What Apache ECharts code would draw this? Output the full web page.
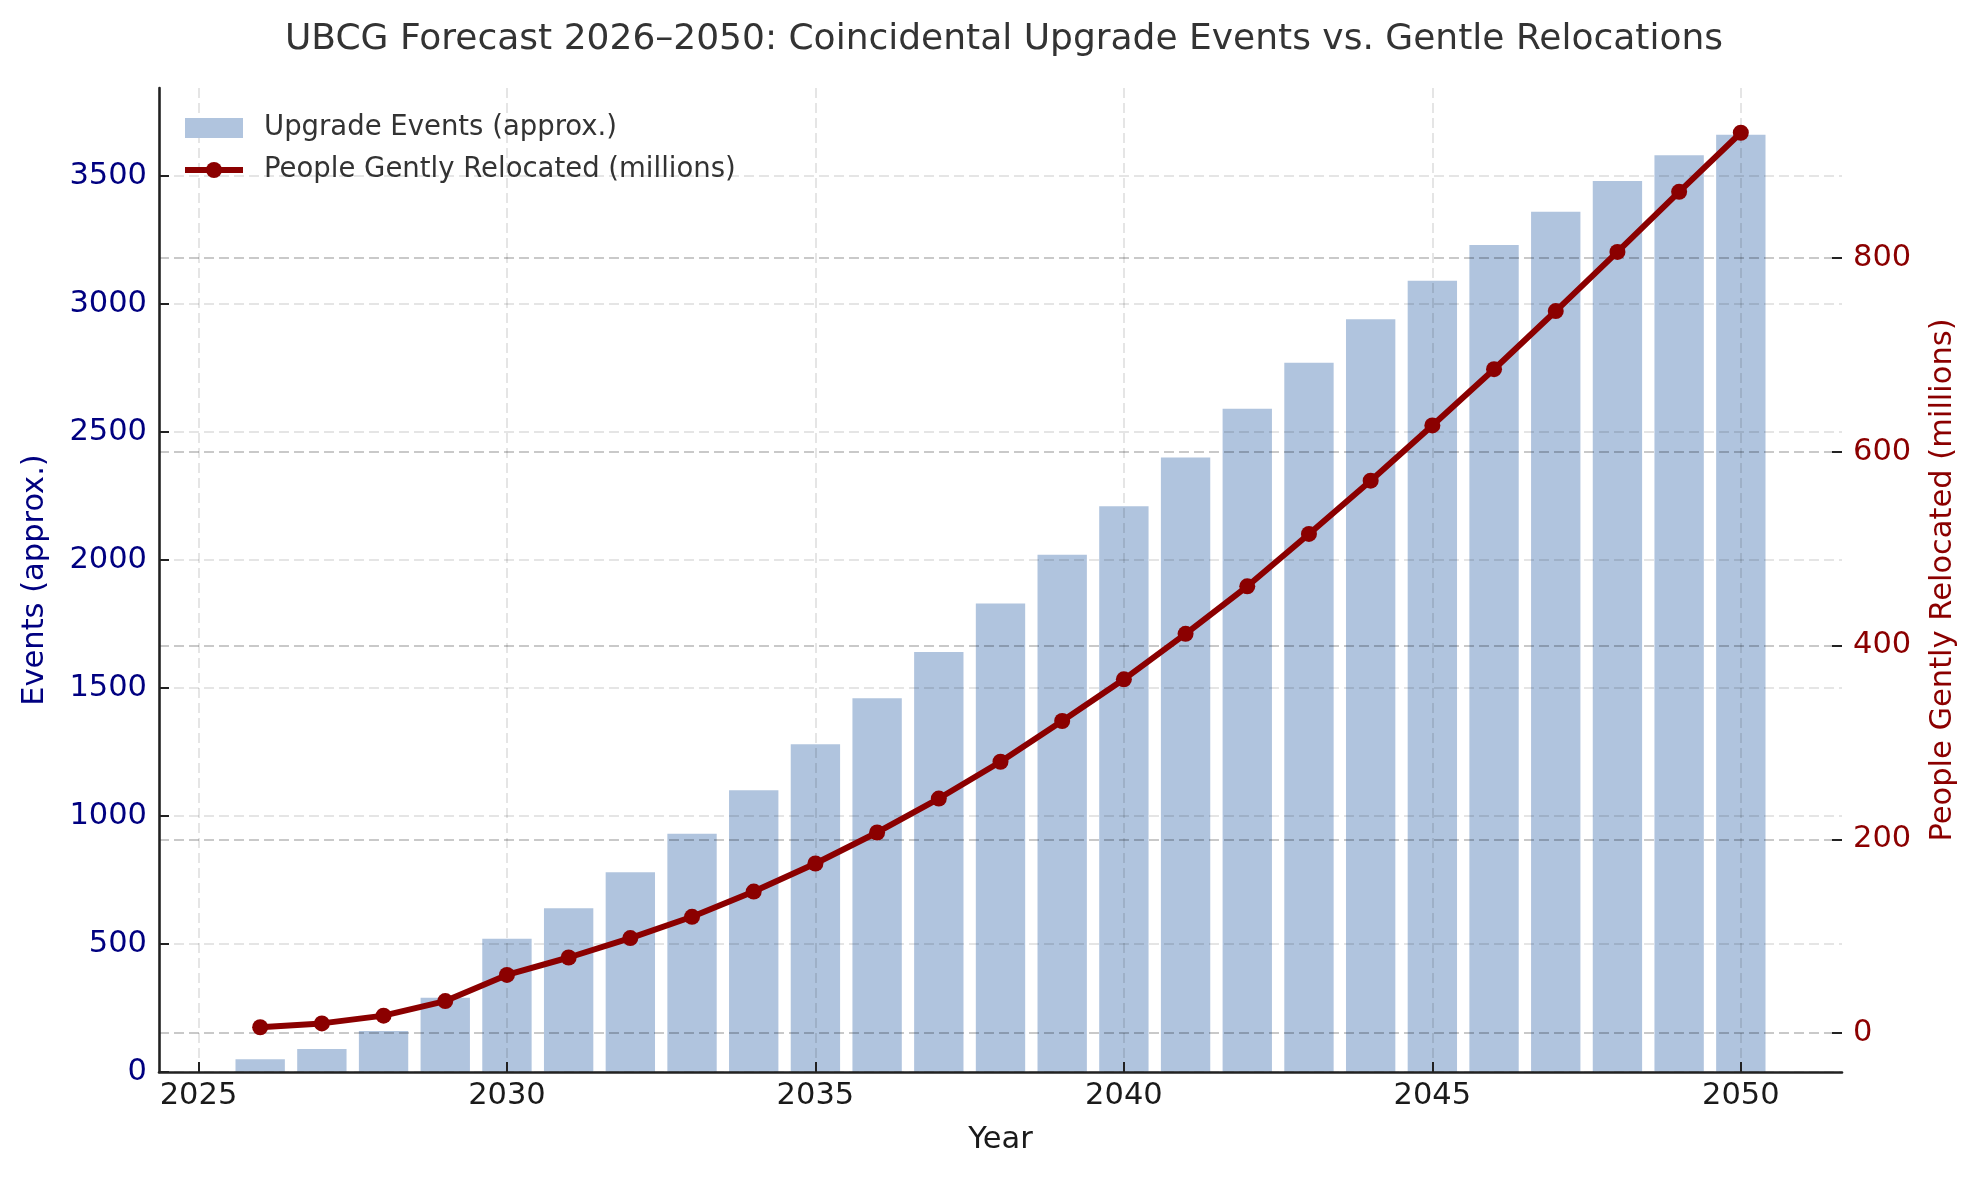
<!DOCTYPE html>
<html>
<head>
<meta charset="utf-8">
<script src="https://cdn.jsdelivr.net/npm/echarts@6/dist/echarts.min.js"></script>
<style>
html,body{margin:0;padding:0;background:#fff;}
#chart{width:1980px;height:1180px;}
</style>
</head>
<body>
<div id="chart"></div>
<script>
// ---- data ----
const years = [2026,2027,2028,2029,2030,2031,2032,2033,2034,2035,2036,2037,2038,2039,2040,2041,2042,2043,2044,2045,2046,2047,2048,2049,2050];
const upgradeEvents = [50,90,160,290,520,640,780,930,1100,1280,1460,1640,1830,2020,2210,2400,2590,2770,2940,3090,3230,3360,3480,3580,3660];
const peopleRelocated = [6,10,18,33,60,78,98,120,146,175,207,242,280,322,365,412,461,515,570,627,685,745,806,868,929];
const xTickValues = [2025,2030,2035,2040,2045,2050];
const leftTickValues = [0,500,1000,1500,2000,2500,3000,3500];
const rightTickValues = [0,200,400,600,800];

const seriesBarName = 'Upgrade Events (approx.)';
const seriesLineName = 'People Gently Relocated (millions)';

// axis extents (matplotlib-style 5% margins)
const xMin = years[0] - 0.4 - (years[years.length-1] - years[0] + 0.8) * 0.05;
const xMax = years[years.length-1] + 0.4 + (years[years.length-1] - years[0] + 0.8) * 0.05;
const leftMax = Math.max(...upgradeEvents) * 1.05;
const rMinV = Math.min(...peopleRelocated), rMaxV = Math.max(...peopleRelocated);
const rightMin = rMinV - (rMaxV - rMinV) * 0.05;
const rightMax = rMaxV + (rMaxV - rMinV) * 0.05;

const FONT = 'DejaVu Sans';
const chart = echarts.init(document.getElementById('chart'), null, {renderer: 'canvas'});

const option = {
  animation: false,
  backgroundColor: '#ffffff',
  textStyle: {fontFamily: FONT},
  title: {
    text: 'UBCG Forecast 2026\u20132050: Coincidental Upgrade Events vs. Gentle Relocations',
    left: 280,
    top: 17,
    textStyle: {fontFamily: FONT, fontSize: 36, fontWeight: 'normal', color: '#333333'}
  },
  legend: {
    orient: 'vertical',
    left: 182,
    top: 114,
    padding: 0,
    itemWidth: 58,
    itemHeight: 20,
    itemGap: 14,
    textStyle: {fontFamily: FONT, fontSize: 27.5, color: '#333333', padding: [0,0,0,16]},
    data: [
      {name: seriesBarName, icon: 'rect'},
      {name: seriesLineName, lineStyle: {width: 6, color: '#8B0000'}, itemStyle: {color: '#8B0000'}}
    ]
  },
  grid: {left: 159, right: 138, top: 88, bottom: 108},
  xAxis: {
    type: 'value',
    min: xMin,
    max: xMax,
    z: 3,
    name: 'Year',
    nameLocation: 'middle',
    nameGap: 53,
    nameTextStyle: {fontFamily: FONT, fontSize: 30.5, color: '#1a1a1a'},
    axisLine: {show: true, onZero: false, lineStyle: {color: '#222222', width: 2.6}},
    axisTick: {show: true, inside: true, length: 10, customValues: xTickValues, lineStyle: {color: '#222222', width: 2}},
    axisLabel: {show: true, margin: 9, customValues: xTickValues, fontFamily: FONT, fontSize: 30.5, color: '#1a1a1a', formatter: v => String(v)},
    splitLine: {show: true, lineStyle: {color: 'rgba(0,0,0,0.10)', width: 2, type: [10,5]}}
  },
  yAxis: [
    {
      type: 'value',
      position: 'left',
      min: 0,
      max: leftMax,
      z: 3,
      name: 'Events (approx.)',
      nameLocation: 'middle',
      nameRotate: 90,
      nameGap: 108,
      nameTextStyle: {fontFamily: FONT, fontSize: 30.5, color: '#000080'},
      axisLine: {show: true, onZero: false, lineStyle: {color: '#222222', width: 2.6}},
      axisTick: {show: true, inside: true, length: 10, customValues: leftTickValues, lineStyle: {color: '#222222', width: 2}},
      axisLabel: {show: true, margin: 12, customValues: leftTickValues, fontFamily: FONT, fontSize: 30.5, color: '#000080', formatter: v => String(Math.round(v))},
      splitLine: {show: true, lineStyle: {color: 'rgba(0,0,0,0.10)', width: 2, type: [10,5]}}
    },
    {
      type: 'value',
      position: 'right',
      min: rightMin,
      max: rightMax,
      z: 3,
      name: 'People Gently Relocated (millions)',
      nameLocation: 'middle',
      nameRotate: 90,
      nameGap: 86,
      nameTextStyle: {fontFamily: FONT, fontSize: 30.5, color: '#8B0000'},
      axisLine: {show: false, onZero: false},
      axisTick: {show: true, inside: true, length: 10, customValues: rightTickValues, lineStyle: {color: '#222222', width: 2}},
      axisLabel: {show: true, margin: 11, customValues: rightTickValues, fontFamily: FONT, fontSize: 30.5, color: '#8B0000', formatter: v => String(Math.round(v))},
      splitLine: {show: true, lineStyle: {color: 'rgba(0,0,0,0.21)', width: 2, type: [10,5]}}
    }
  ],
  series: [
    {
      name: seriesBarName,
      type: 'bar',
      xAxisIndex: 0,
      yAxisIndex: 0,
      z: 2,
      barWidth: '80%',
      itemStyle: {color: '#B0C4DE'},
      data: years.map((y, i) => [y, upgradeEvents[i]])
    },
    {
      name: seriesLineName,
      type: 'line',
      xAxisIndex: 0,
      yAxisIndex: 1,
      z: 5,
      symbol: 'circle',
      symbolSize: 16,
      lineStyle: {color: '#8B0000', width: 6},
      itemStyle: {color: '#8B0000'},
      data: years.map((y, i) => [y, peopleRelocated[i]])
    }
  ]
};
chart.setOption(option);
</script>
</body>
</html>
